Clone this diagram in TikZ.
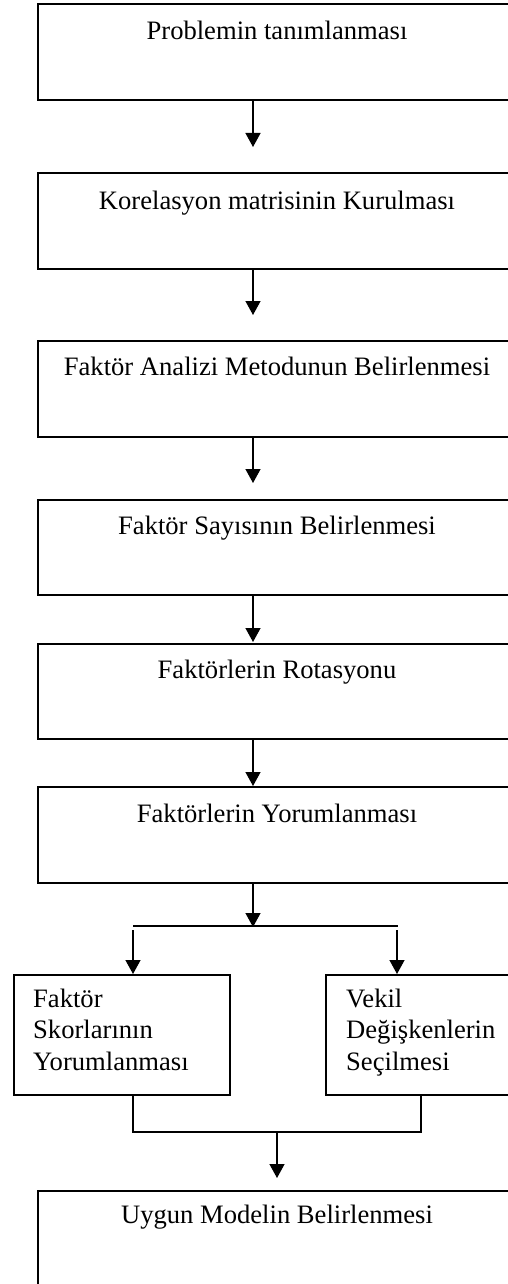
\documentclass[tikz,border=0pt]{standalone}
\usepackage{fontspec}
\setmainfont{Liberation Serif}
\usetikzlibrary{arrows.meta}

\tikzset{
  stagebox/.style={draw, line width=1.6pt, rectangle, inner sep=0pt, anchor=north west},
  stagetext/.style={anchor=base, inner sep=0pt, font=\fontsize{26.6}{31.7}\selectfont},
  sidetext/.style={anchor=base west, inner sep=0pt, font=\fontsize{26.6}{31.7}\selectfont},
  flow/.style={line width=1.3pt, -{Triangle[width=15pt,length=14pt]}},
  link/.style={line width=1.3pt}
}

\begin{document}
\begin{tikzpicture}[x=1pt,y=-1pt]
\useasboundingbox (0,0) rectangle (507,1284);

% main stages (right edges run past the page)
\node[stagebox, minimum width=480pt, minimum height=96pt] (b1) at (37,3) {};
\node[stagebox, minimum width=480pt, minimum height=96pt] (b2) at (37,172) {};
\node[stagebox, minimum width=480pt, minimum height=96pt] (b3) at (37,340) {};
\node[stagebox, minimum width=480pt, minimum height=95pt] (b4) at (37,499) {};
\node[stagebox, minimum width=480pt, minimum height=95pt] (b5) at (37,643) {};
\node[stagebox, minimum width=480pt, minimum height=96pt] (b6) at (37,786) {};
\node[stagebox, minimum width=480pt, minimum height=120pt] (b7) at (37,1190) {};

% side-by-side stages
\node[stagebox, minimum width=216pt, minimum height=120pt] (sl) at (13,974) {};
\node[stagebox, minimum width=200pt, minimum height=120pt] (sr) at (325,974) {};

% labels
\node[stagetext] (t1) at (277,40)  {Problemin tanımlanması};
\node[stagetext] (t2) at (277,209) {Korelasyon matrisinin Kurulması};
\node[stagetext] (t3) at (277,375) {Faktör Analizi Metodunun Belirlenmesi};
\node[stagetext] (t4) at (277,534) {Faktör Sayısının Belirlenmesi};
\node[stagetext] (t5) at (277,678) {Faktörlerin Rotasyonu};
\node[stagetext] (t6) at (277,822) {Faktörlerin Yorumlanması};
\node[stagetext] (t7) at (277,1223) {Uygun Modelin Belirlenmesi};

\node[sidetext] (l1) at (33,1007) {Faktör};
\node[sidetext] (l2) at (33,1038) {Skorlarının};
\node[sidetext] (l3) at (33,1070) {Yorumlanması};
\node[sidetext] (r1) at (346,1007) {Vekil};
\node[sidetext] (r2) at (346,1038) {Değişkenlerin};
\node[sidetext] (r3) at (346,1070) {Seçilmesi};

% arrow ends
\coordinate (a1) at (253,147);
\coordinate (a2) at (253,315);
\coordinate (a3) at (253,483);
\coordinate (a4) at (253,642);
\coordinate (a5) at (253,786);
\coordinate (a6) at (253,927);

\draw[flow] (b1.south west -| a1) -- (a1);
\draw[flow] (b2.south west -| a2) -- (a2);
\draw[flow] (b3.south west -| a3) -- (a3);
\draw[flow] (b4.south west -| a4) -- (a4);
\draw[flow] (b5.south west -| a5) -- (a5);
\draw[flow] (b6.south west -| a6) -- (a6);

% split into the two side stages
\coordinate (sp1) at (133,926);
\coordinate (sp2) at (398,926);
\coordinate (sd1) at (133,930);
\coordinate (sd2) at (397,930);
\draw[link] (sp1) -- (sp2);
\draw[flow] (sd1) -- (sd1 |- sl.north);
\draw[flow] (sd2) -- (sd2 |- sr.north);

% merge towards the final stage
\coordinate (jl) at (133,1132);
\coordinate (jr) at (421,1132);
\coordinate (jm) at (277,1132);
\coordinate (a7) at (277,1178);
\draw[link] (sl.south -| jl) -- (jl) -- (jr) -- (sr.south -| jr);
\draw[flow] (jm) -- (a7);
\end{tikzpicture}
\end{document}
